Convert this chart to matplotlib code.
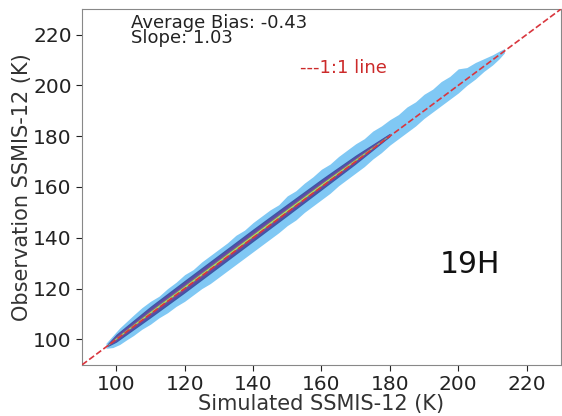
import matplotlib
matplotlib.use("Agg")
import matplotlib.pyplot as plt
import numpy as np

# Envelope of the light-blue scatter cloud
x_env = [97, 99, 101, 103, 105, 107.5, 110, 112.5, 115, 117.5, 120, 122.5, 125, 127.5, 130,
         132.5, 135, 137.5, 140, 142.5, 145, 147.5, 150, 152.5, 155, 157.5, 160, 162.5, 165,
         167.5, 170, 172.5, 175, 177.5, 180, 182.5, 185, 187.5, 190, 192.5, 195, 197.5, 200,
         202.5, 205, 207.5, 210, 212, 213.5]
y_lo = [96.5, 96.8, 98.0, 99.8, 101.5, 104.0, 106.0, 108.5, 110.5, 113.0, 115.0, 117.5, 120.0,
        122.0, 124.5, 127.0, 129.5, 132.0, 134.5, 137.0, 139.5, 142.0, 144.8, 147.0, 150.0,
        152.5, 155.0, 157.5, 160.5, 163.0, 165.5, 168.0, 171.0, 173.5, 176.5, 179.0, 181.5,
        184.0, 187.0, 189.5, 192.0, 194.5, 197.0, 200.0, 202.5, 205.5, 208.0, 210.5, 212.8]
y_hi = [98.5, 101.5, 104.5, 107.0, 109.5, 112.5, 115.0, 117.0, 120.0, 122.5, 125.5, 127.5, 130.5,
        133.0, 135.5, 138.0, 141.0, 143.0, 146.0, 148.5, 151.0, 153.0, 156.5, 158.5, 161.5,
        164.0, 167.0, 169.0, 172.0, 174.5, 177.0, 179.0, 182.0, 184.0, 186.5, 188.5, 191.5,
        193.5, 196.5, 198.5, 201.5, 203.5, 206.5, 207.0, 209.0, 210.5, 212.0, 213.5, 214.5]

# Dense core (colored density) along the diagonal
x_core = [97.5, 100, 110, 120, 130, 140, 150, 160, 170, 180]
core_mid = [97.8, 100.5, 110.8, 120.8, 130.9, 141.0, 151.0, 161.0, 170.8, 180.5]
core_half = [0.6, 1.6, 2.3, 2.5, 2.5, 2.5, 2.4, 2.2, 1.8, 0.7]

xlim = [90, 230]
ylim = [90, 230]
x_ticks = [100, 120, 140, 160, 180, 200, 220]
y_ticks = [100, 120, 140, 160, 180, 200, 220]

avg_bias = -0.43
slope = 1.03
band_label = "19H"

fig = plt.figure(figsize=(5.62, 4.16), dpi=100)
ax = fig.add_axes([0.146, 0.123, 0.852, 0.855])

ax.fill_between(x_env, y_lo, y_hi, color="#80c8f4", lw=0, zorder=1)

xc = np.array(x_core)
mc = np.array(core_mid)
hc = np.array(core_half)
layers = [(1.0, "#3a58a6"), (0.75, "#574ea4"), (0.45, "#7a4a9a"), (0.22, "#4fae8a"), (0.1, "#d8d84a")]
for frac, col in layers:
    ax.fill_between(xc, mc - hc * frac, mc + hc * frac, color=col, lw=0, zorder=2)

ax.plot(xlim, ylim, ls="--", color="#d9363e", lw=1.2, zorder=3)

ax.set_xlim(xlim)
ax.set_ylim(ylim)
ax.set_xticks(x_ticks)
ax.set_yticks(y_ticks)
ax.tick_params(labelsize=14.5, colors="#222222", length=4)
for s in ax.spines.values():
    s.set_color("#888888")
ax.set_xlabel("Simulated SSMIS-12 (K)", fontsize=15, color="#333333", labelpad=0)
ax.set_ylabel("Observation SSMIS-12 (K)", fontsize=15, color="#333333", labelpad=1)

ax.text(0.102, 0.985, f"Average Bias: {avg_bias}\nSlope: {slope}", transform=ax.transAxes,
        fontsize=13, va="top", ha="left", color="#222222", linespacing=0.72)
ax.text(0.455, 0.835, "---1:1 line", transform=ax.transAxes, fontsize=13,
        va="center", ha="left", color="#cc2a2a")
ax.text(203.5, 129.5, band_label, fontsize=21.5, ha="center", va="center", color="#111111")

fig.savefig("out.png", dpi=100)
